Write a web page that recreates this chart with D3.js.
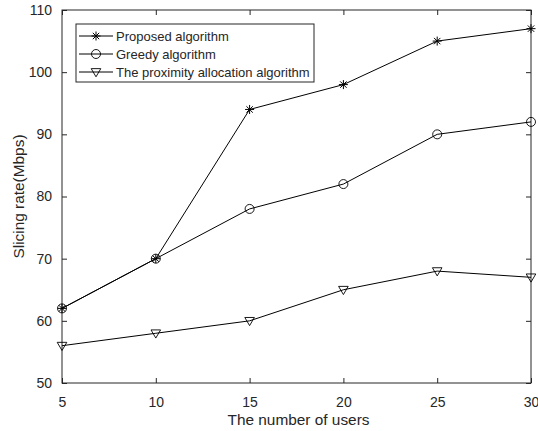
<!doctype html>
<html>
  <head>
    <meta charset='UTF-8'>
    <script src="https://cdn.jsdelivr.net/npm/d3@7"></script>
    <style>
      body { margin: 0; background: #fff; }
      text { font-family: "Liberation Sans", Arial, sans-serif; fill: #262626; }
    </style>
  </head>
  <body>
    <svg id="chart" width="538" height="431"></svg>
    <script>
      const users = [5, 10, 15, 20, 25, 30];
      const proposed = [62, 70, 94, 98, 105, 107];
      const greedy = [62, 70, 78, 82, 90, 92];
      const proximity = [56, 58, 60, 65, 68, 67];
      const xTicks = [5, 10, 15, 20, 25, 30];
      const yTicks = [50, 60, 70, 80, 90, 100, 110];
      const seriesNames = ["Proposed algorithm", "Greedy algorithm", "The proximity allocation algorithm"];
      const markers = ["star", "circle", "tri"];

      const pLeft = 62, pRight = 531, pTop = 10, pBottom = 383;
      const svg = d3.select("#chart");
      const x = d3.scaleLinear().domain([5, 30]).range([pLeft, pRight]);
      const y = d3.scaleLinear().domain([50, 110]).range([pBottom, pTop]);
      const axisCol = "#262626";

      // box
      svg.append("rect").attr("x", pLeft).attr("y", pTop)
        .attr("width", pRight - pLeft).attr("height", pBottom - pTop)
        .attr("fill", "none").attr("stroke", axisCol).attr("stroke-width", 1);

      function styleAxis(g, labels) {
        g.select(".domain").remove();
        g.selectAll(".tick line").attr("stroke", axisCol);
        if (!labels) g.selectAll(".tick text").remove();
        else g.selectAll(".tick text").style("font-size", "14px").attr("fill", axisCol);
      }
      svg.append("g").attr("transform", `translate(0,${pBottom})`)
        .call(d3.axisBottom(x).tickValues(xTicks).tickSizeInner(-5).tickPadding(14))
        .call(g => styleAxis(g, true));
      svg.append("g").attr("transform", `translate(0,${pTop})`)
        .call(d3.axisTop(x).tickValues(xTicks).tickSizeInner(-5))
        .call(g => styleAxis(g, false));
      svg.append("g").attr("transform", `translate(${pLeft},0)`)
        .call(d3.axisLeft(y).tickValues(yTicks).tickSizeInner(-5).tickPadding(10))
        .call(g => styleAxis(g, true));
      svg.append("g").attr("transform", `translate(${pRight},0)`)
        .call(d3.axisRight(y).tickValues(yTicks).tickSizeInner(-5))
        .call(g => styleAxis(g, false));
      svg.selectAll("g text").attr("fill", axisCol);

      // axis labels
      svg.append("text").attr("x", (pLeft + pRight) / 2 + 2).attr("y", 425)
        .attr("text-anchor", "middle").style("font-size", "15.4px")
        .text("The number of users");
      svg.append("text").attr("transform", `translate(24,${(pTop + pBottom) / 2}) rotate(-90)`)
        .attr("text-anchor", "middle").style("font-size", "15.4px")
        .text("Slicing rate(Mbps)");

      function drawMarker(g, type, cx, cy) {
        if (type === "star") {
          const r = 4.5;
          [0, 45, 90, 135].forEach(a => {
            const rad = a * Math.PI / 180;
            g.append("line")
              .attr("x1", cx - r * Math.cos(rad)).attr("y1", cy - r * Math.sin(rad))
              .attr("x2", cx + r * Math.cos(rad)).attr("y2", cy + r * Math.sin(rad))
              .attr("stroke", "#000").attr("stroke-width", 1);
          });
        } else if (type === "circle") {
          g.append("circle").attr("cx", cx).attr("cy", cy).attr("r", 4.5)
            .attr("fill", "none").attr("stroke", "#000").attr("stroke-width", 0.9);
        } else {
          const s = 4.8;
          g.append("path")
            .attr("d", `M${cx - s},${cy - s * 0.7}L${cx + s},${cy - s * 0.7}L${cx},${cy + s}Z`)
            .attr("fill", "none").attr("stroke", "#000").attr("stroke-width", 0.9);
        }
      }

      const series = [proposed, greedy, proximity];
      const line = d3.line().x((d, i) => x(users[i])).y(d => y(d));
      series.forEach((vals, k) => {
        const g = svg.append("g");
        g.append("path").datum(vals).attr("d", line)
          .attr("fill", "none").attr("stroke", "#000").attr("stroke-width", 1);
        vals.forEach((v, i) => drawMarker(g, markers[k], x(users[i]), y(v)));
      });

      // legend
      const lg = svg.append("g");
      lg.append("rect").attr("x", 76).attr("y", 24).attr("width", 238).attr("height", 58)
        .attr("fill", "#fff").attr("stroke", axisCol).attr("stroke-width", 1);
      seriesNames.forEach((name, k) => {
        const ry = 36 + k * 18;
        lg.append("line").attr("x1", 79).attr("x2", 113).attr("y1", ry).attr("y2", ry)
          .attr("stroke", "#000").attr("stroke-width", 1);
        drawMarker(lg, markers[k], 96, ry);
        lg.append("text").attr("x", 116).attr("y", ry + 4.5)
          .style("font-size", "13px").text(name);
      });
    </script>
  </body>
</html>
